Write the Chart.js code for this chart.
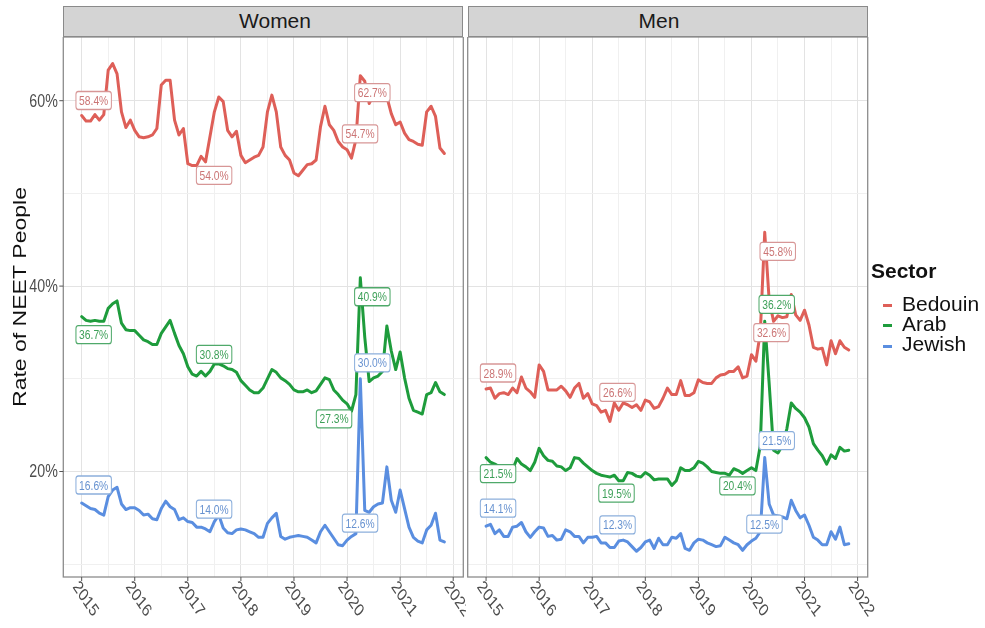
<!DOCTYPE html>
<html><head><meta charset="utf-8">
<script src="https://cdn.jsdelivr.net/npm/chart.js@4/dist/chart.umd.min.js"></script>
<style>
html,body{margin:0;padding:0;background:#fff;}
#wrap{position:relative;width:985px;height:628px;overflow:hidden;font-family:"Liberation Sans",Arial,sans-serif;}
canvas{position:absolute;}
.strip{position:absolute;top:6px;height:31px;width:400px;background:#D4D4D4;border:1.3px solid #8a8a8a;box-sizing:border-box;}
.stext{position:absolute;top:9px;font-size:21px;line-height:24px;color:#1a1a1a;transform:translateX(-50%);white-space:nowrap;}
.lg{position:absolute;font-size:21px;line-height:24px;color:#111;white-space:nowrap;}
.key{position:absolute;left:883px;width:9px;height:3px;}
</style></head>
<body><div id="wrap">
<div class="strip" style="left:63.3px"></div>
<div class="strip" style="left:467.7px"></div>
<div class="stext" style="left:275px">Women</div>
<div class="stext" style="left:659px">Men</div>
<canvas id="c1" width="466" height="591" style="left:0;top:37px"></canvas>
<canvas id="c2" width="519" height="591" style="left:466px;top:37px"></canvas>
<div id="legend"></div>
</div>
<script>
// ---- data ----
const panels = ['Women', 'Men'];
const sectors = ['Bedouin', 'Arab', 'Jewish'];
const startYear = 2015; // monthly series, Jan 2015 .. Nov 2021
const labelIndex = [0, 27, 60, 63]; // Jan 2015, Apr 2017, Jan 2020, Apr 2020
const xTickLabels = ['2015','2016','2017','2018','2019','2020','2021','2022'];
const yTickLabels = ['20%','40%','60%'];

const womenBedouin = [
58.4,57.8,57.8,58.5,57.9,58.5,63.3,64.0,62.9,58.8,57.1,57.9,
56.8,56.1,56.0,56.1,56.3,57.0,61.7,62.2,62.2,57.9,56.3,57.0,
53.2,53.0,53.0,54.0,53.4,56.1,58.8,60.4,59.9,56.8,56.1,56.7,
54.1,53.3,53.6,53.9,54.1,55.0,58.8,60.6,58.8,55.0,54.1,53.6,
52.2,51.9,52.5,53.1,53.2,53.6,57.2,59.4,57.4,56.8,55.6,55.0,
54.7,53.8,55.8,62.7,62.1,59.7,60.6,60.4,60.8,60.4,58.6,57.4,
57.7,56.5,55.8,55.6,55.3,55.2,58.8,59.4,58.3,54.9,54.3];
const womenArab = [
36.7,36.3,36.2,36.3,36.2,36.2,37.6,38.1,38.4,36.0,35.3,35.2,
35.2,34.7,34.2,34.0,33.7,33.7,34.9,35.6,36.3,34.9,33.6,32.7,
31.3,30.5,30.3,30.8,30.3,30.8,31.6,31.6,31.4,31.1,31.0,30.7,
29.8,29.3,28.8,28.5,28.5,29.0,30.0,31.0,30.7,30.1,29.8,29.4,
28.8,28.6,28.6,28.8,28.5,28.7,29.4,30.1,29.9,28.8,28.3,27.7,
27.3,26.5,28.3,40.9,34.5,29.7,30.1,30.3,30.8,35.7,33.0,31.0,
32.9,30.1,27.9,26.6,26.4,26.2,28.3,28.5,29.6,28.6,28.3];
const womenJewish = [
16.6,16.3,16.0,15.9,15.5,15.3,17.3,18.0,18.3,16.5,15.9,16.1,
16.1,15.8,15.3,15.4,14.9,14.8,16.0,16.8,16.2,15.9,14.8,15.0,
14.6,14.5,14.0,14.0,13.8,13.5,14.6,15.3,13.9,13.4,13.3,13.7,
13.8,13.7,13.5,13.3,12.9,12.9,14.4,15.0,15.5,13.0,12.7,12.9,
13.0,13.1,13.0,12.9,12.6,12.3,13.5,14.2,13.5,12.8,12.1,12.0,
12.6,13.0,13.3,30.0,15.8,15.6,16.2,16.5,16.6,20.5,16.9,15.6,
18.0,16.0,14.0,12.9,12.5,12.3,13.7,14.2,15.5,12.6,12.4];
const menBedouin = [
28.9,29.0,27.9,28.4,28.5,28.3,29.0,28.5,30.2,29.0,28.6,28.0,
31.5,30.8,28.8,28.8,28.8,29.2,28.7,28.0,29.0,29.5,27.9,28.4,
27.3,27.1,26.4,26.6,25.4,27.4,26.6,27.4,27.2,26.9,27.2,26.6,
27.7,27.5,26.8,27.0,27.9,29.0,28.3,28.3,29.8,28.2,28.2,28.5,
29.9,29.6,29.5,29.5,30.1,30.4,30.5,30.8,30.8,31.3,30.1,30.3,
32.6,31.9,35.0,45.8,38.5,36.2,36.8,36.6,36.7,39.1,36.9,36.3,
37.4,35.8,33.4,33.2,33.3,31.5,34.1,32.7,34.1,33.4,33.1];
const menArab = [
21.5,21.0,20.8,20.5,20.3,19.6,20.2,21.4,20.8,20.5,20.1,21.0,
22.5,21.7,21.2,21.1,20.6,20.5,20.1,20.4,21.5,21.4,20.9,20.5,
20.1,19.8,19.6,19.5,19.4,19.6,19.0,19.0,19.9,19.8,19.5,19.4,
19.9,19.6,19.1,19.2,19.2,19.2,18.5,19.0,20.4,20.1,20.1,20.4,
21.1,20.9,20.5,20.0,19.9,19.8,19.8,19.6,20.3,20.1,19.8,20.1,
20.4,20.1,22.8,36.2,29.5,22.3,22.0,22.8,24.6,27.4,26.8,26.4,
25.8,24.8,23.0,22.3,21.7,20.8,21.8,21.4,22.6,22.2,22.3];
const menJewish = [
14.1,14.3,13.3,13.7,13.0,13.0,14.0,14.1,14.5,13.5,12.9,13.5,
14.0,13.9,13.0,13.1,12.6,12.7,13.7,13.5,13.0,13.0,12.3,12.9,
12.9,13.0,12.3,12.3,11.8,11.8,12.5,12.6,12.4,11.9,11.4,11.8,
12.4,12.6,11.7,12.8,12.1,12.1,12.9,12.8,13.3,11.7,11.5,12.3,
12.7,12.6,12.3,12.1,11.9,12.0,12.9,12.6,12.3,12.1,11.5,12.1,
12.5,12.8,13.5,21.5,16.5,15.3,15.2,15.1,14.9,16.9,15.8,15.0,
15.3,14.2,12.9,12.6,12.1,12.1,13.5,12.7,14.0,12.1,12.2];

// ---- styles ----
const colors = ['#DE5F58', '#1E9C3C', '#5A8EE0'];
const labelText = ['rgba(200,110,110,0.95)', 'rgba(40,150,70,0.9)', 'rgba(95,140,205,0.95)'];
const labelBorder = ['rgba(215,150,150,1)', 'rgba(60,160,90,0.9)', 'rgba(140,175,220,1)'];
// label offsets in px (dx,dy) per panel / sector / labelled point
const labelOffsets = [
  [[[12,-15],[13,19],[13,-16],[12,17]],
   [[12,18],[13,-17],[-13,15],[12,19]],
   [[12,-18],[13,-18],[13,-17],[12,-16]]],
  [[[12,-16],[12,-18],[20,-22],[13,19]],
   [[12,16],[11,17],[-14,18],[12,-17]],
   [[12,-18],[12,-18],[13,-17],[12,-17]]]
];
const SQ = 0.79;
const FONT = '"Liberation Sans", Arial, sans-serif';

const xVals = womenBedouin.map((_, i) => startYear + i / 12);
const toPts = arr => arr.map((v, i) => ({x: xVals[i], y: v}));
const series = [[womenBedouin, womenArab, womenJewish], [menBedouin, menArab, menJewish]];

const decor = {
  id: 'decor',
  afterDatasetsDraw(chart, args, opts) {
    const ctx = chart.ctx, xs = chart.scales.x, ys = chart.scales.y;
    chart.data.datasets.forEach((ds, di) => {
      labelIndex.forEach((idx, k) => {
        const p = ds.data[idx];
        const off = labelOffsets[opts.panel][di][k];
        const px = xs.getPixelForValue(p.x) + off[0];
        const py = ys.getPixelForValue(p.y) + off[1];
        const txt = p.y.toFixed(1) + '%';
        ctx.save();
        ctx.translate(px, py);
        ctx.scale(SQ, 1);
        ctx.font = '13px ' + FONT;
        const w = ctx.measureText(txt).width + 8, h = 18;
        ctx.beginPath();
        ctx.roundRect(-w / 2, -h / 2, w, h, 3);
        ctx.fillStyle = '#fff'; ctx.fill();
        ctx.lineWidth = 1.3; ctx.strokeStyle = labelBorder[di]; ctx.stroke();
        ctx.fillStyle = labelText[di];
        ctx.textAlign = 'center'; ctx.textBaseline = 'middle';
        ctx.fillText(txt, 0, 1);
        ctx.restore();
      });
    });
  },
  afterDraw(chart, args, opts) {
    const ctx = chart.ctx, xs = chart.scales.x, ys = chart.scales.y, a = chart.chartArea;
    ctx.save();
    ctx.strokeStyle = '#8c8c8c'; ctx.lineWidth = 1.3;
    ctx.strokeRect(a.left, a.top, a.right - a.left, a.bottom - a.top);
    // x ticks + labels
    xTickLabels.forEach(t => {
      const x = xs.getPixelForValue(Number(t));
      ctx.strokeStyle = '#555'; ctx.lineWidth = 1;
      ctx.beginPath(); ctx.moveTo(x, a.bottom); ctx.lineTo(x, a.bottom + 4); ctx.stroke();
      ctx.save();
      ctx.translate(x - 9.5, a.bottom + 10);
      ctx.scale(SQ, 1);
      ctx.rotate(50 * Math.PI / 180);
      ctx.font = '18px ' + FONT;
      ctx.fillStyle = '#4D4D4D';
      ctx.textAlign = 'left'; ctx.textBaseline = 'alphabetic';
      ctx.fillText(t, 0, 0);
      ctx.restore();
    });
    if (opts.showY) {
      yTickLabels.forEach(t => {
        const y = ys.getPixelForValue(parseFloat(t));
        ctx.strokeStyle = '#555'; ctx.lineWidth = 1;
        ctx.beginPath(); ctx.moveTo(a.left - 4, y); ctx.lineTo(a.left, y); ctx.stroke();
        ctx.save();
        ctx.translate(a.left - 5.5, y);
        ctx.scale(SQ, 1);
        ctx.font = '18px ' + FONT;
        ctx.fillStyle = '#4D4D4D';
        ctx.textAlign = 'right'; ctx.textBaseline = 'middle';
        ctx.fillText(t, 0, 1);
        ctx.restore();
      });
      ctx.save();
      ctx.translate(25.7, 260);
      ctx.scale(SQ, 1);
      ctx.rotate(-Math.PI / 2);
      ctx.font = '23px ' + FONT;
      ctx.fillStyle = '#111';
      ctx.textAlign = 'center'; ctx.textBaseline = 'alphabetic';
      ctx.fillText('Rate of NEET People', 0, 0);
      ctx.restore();
    }
    ctx.restore();
  }
};

function makeChart(id, p, yWidth, padRight) {
  return new Chart(document.getElementById(id), {
    type: 'line',
    data: {
      datasets: sectors.map((s, i) => ({
        label: s,
        data: toPts(series[p][i]),
        borderColor: colors[i],
        backgroundColor: colors[i],
        borderWidth: 3,
        pointRadius: 0,
        tension: 0,
        borderJoinStyle: 'round',
        borderCapStyle: 'round',
        order: 3 - i
      }))
    },
    options: {
      responsive: false,
      animation: false,
      events: [],
      layout: {padding: {left: 0, right: padRight, top: 0, bottom: 0}},
      plugins: {legend: {display: false}, tooltip: {enabled: false}, title: {display: false},
                decor: {panel: p, showY: p === 0}},
      scales: {
        x: {
          type: 'linear', min: 2014.654, max: 2022.19,
          afterBuildTicks: sc => { const t = []; for (let v = 2015; v <= 2022; v += 0.5) t.push({value: v}); sc.ticks = t; },
          afterFit: sc => { sc.height = 51; },
          ticks: {display: false},
          border: {display: false},
          grid: {drawTicks: false, lineWidth: 1,
                 color: c => Number.isInteger(c.tick.value) ? '#E3E3E3' : '#F0F0F0'}
        },
        y: {
          type: 'linear', min: 8.62, max: 66.87,
          afterBuildTicks: sc => { sc.ticks = [10,20,30,40,50,60].map(v => ({value: v})); },
          afterFit: sc => { sc.width = yWidth; },
          ticks: {display: false},
          border: {display: false},
          grid: {drawTicks: false, lineWidth: 1,
                 color: c => c.tick.value % 20 === 0 ? '#E3E3E3' : '#F0F0F0'}
        }
      }
    },
    plugins: [decor]
  });
}
makeChart('c1', 0, 63.3, 466 - 463.3);
makeChart('c2', 1, 1.7, 519 - (867.7 - 466));

// legend (HTML)
const lg = document.getElementById('legend');
const tl = document.createElement('div');
tl.className = 'lg'; tl.style.left = '871px'; tl.style.top = '258.7px'; tl.style.fontWeight = 'bold';
tl.textContent = 'Sector'; lg.appendChild(tl);
sectors.forEach((s, i) => {
  const d = document.createElement('div');
  d.className = 'lg'; d.style.left = '902px'; d.style.top = (292.4 + 20 * i) + 'px';
  d.textContent = s; lg.appendChild(d);
  const k = document.createElement('div');
  k.className = 'key'; k.style.top = (303.5 + 20.8 * i) + 'px'; k.style.background = colors[i];
  lg.appendChild(k);
});
</script>
</body></html>
